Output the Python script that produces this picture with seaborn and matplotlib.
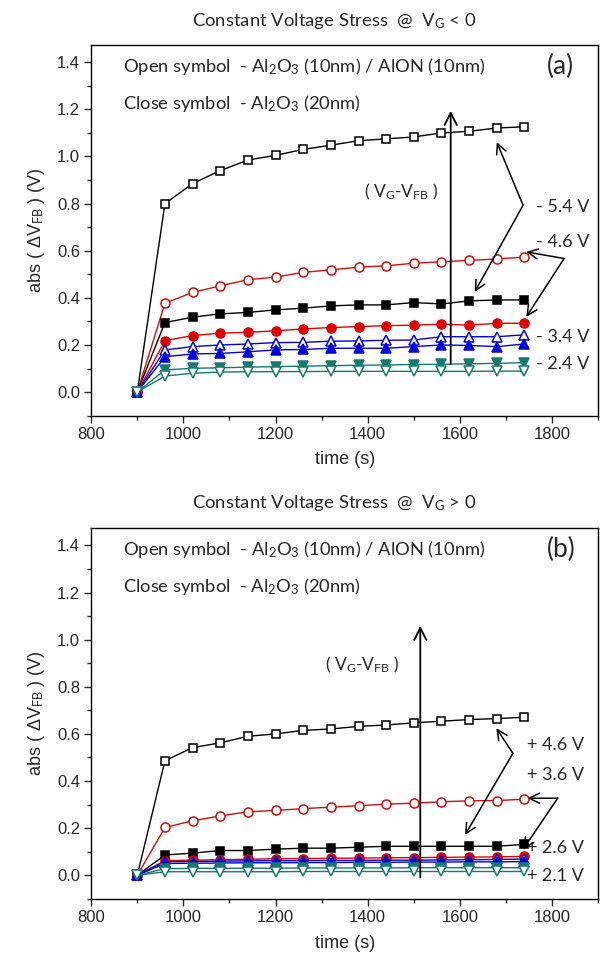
import numpy as np
import pandas as pd
import matplotlib
matplotlib.use("Agg")
import matplotlib.pyplot as plt
from matplotlib.ticker import MultipleLocator, FormatStrFormatter
import seaborn as sns

# ---------------- data ----------------
times = [900, 960, 1020, 1080, 1140, 1200, 1260, 1320, 1380, 1440, 1500, 1560, 1620, 1680, 1740]

# panel (a)  V_G < 0
a_open_sq = [0, 0.800, 0.885, 0.940, 0.985, 1.005, 1.030, 1.048, 1.067, 1.075, 1.083, 1.100, 1.107, 1.121, 1.126]
a_open_circ = [0, 0.377, 0.423, 0.451, 0.477, 0.488, 0.508, 0.519, 0.530, 0.536, 0.547, 0.553, 0.559, 0.565, 0.573]
a_fill_sq = [0, 0.295, 0.318, 0.332, 0.338, 0.349, 0.356, 0.366, 0.370, 0.370, 0.380, 0.374, 0.387, 0.391, 0.391]
a_fill_circ = [0, 0.218, 0.240, 0.250, 0.254, 0.260, 0.268, 0.274, 0.278, 0.282, 0.284, 0.288, 0.284, 0.292, 0.292]
a_open_tri = [0, 0.179, 0.193, 0.200, 0.204, 0.210, 0.211, 0.216, 0.217, 0.220, 0.221, 0.235, 0.235, 0.235, 0.243]
a_fill_tri = [0, 0.150, 0.162, 0.164, 0.171, 0.179, 0.181, 0.186, 0.186, 0.186, 0.193, 0.200, 0.198, 0.193, 0.204]
a_fill_dtri = [0, 0.094, 0.101, 0.103, 0.106, 0.108, 0.110, 0.112, 0.114, 0.115, 0.117, 0.118, 0.120, 0.122, 0.125]
a_open_dtri = [0, 0.068, 0.080, 0.085, 0.086, 0.087, 0.087, 0.088, 0.088, 0.088, 0.088, 0.088, 0.088, 0.089, 0.089]

# panel (b)  V_G > 0
b_open_sq = [0, 0.486, 0.542, 0.562, 0.590, 0.600, 0.615, 0.621, 0.632, 0.638, 0.647, 0.654, 0.661, 0.665, 0.671]
b_open_circ = [0, 0.203, 0.231, 0.252, 0.269, 0.275, 0.283, 0.289, 0.295, 0.302, 0.306, 0.312, 0.316, 0.317, 0.323]
b_fill_sq = [0, 0.086, 0.094, 0.105, 0.105, 0.111, 0.115, 0.115, 0.119, 0.123, 0.123, 0.123, 0.123, 0.123, 0.131]
b_fill_circ = [0, 0.062, 0.064, 0.066, 0.068, 0.070, 0.071, 0.072, 0.073, 0.074, 0.075, 0.076, 0.077, 0.078, 0.080]
b_open_tri = [0, 0.058, 0.058, 0.060, 0.061, 0.062, 0.062, 0.063, 0.063, 0.064, 0.064, 0.065, 0.066, 0.067, 0.069]
b_fill_tri = [0, 0.050, 0.051, 0.052, 0.053, 0.053, 0.054, 0.054, 0.055, 0.055, 0.056, 0.056, 0.057, 0.057, 0.058]
b_fill_dtri = [0, 0.028, 0.029, 0.030, 0.030, 0.030, 0.031, 0.031, 0.031, 0.031, 0.032, 0.032, 0.032, 0.032, 0.032]
b_open_dtri = [0, 0.015, 0.015, 0.015, 0.015, 0.015, 0.016, 0.016, 0.016, 0.016, 0.016, 0.016, 0.016, 0.016, 0.016]

a_labels = ["- 5.4 V", "- 4.6 V", "- 3.4 V", "- 2.4 V"]
b_labels = ["+ 4.6 V", "+ 3.6 V", "+ 2.6 V", "+ 2.1 V"]

# ---------------- style ----------------
sns.set_style("ticks")
plt.rcParams["font.family"] = ["Liberation Sans", "DejaVu Sans"]
plt.rcParams["mathtext.fontset"] = "custom"
plt.rcParams["mathtext.rm"] = "Lato"
plt.rcParams["mathtext.it"] = "Lato"
plt.rcParams["axes.edgecolor"] = "black"
plt.rcParams["axes.linewidth"] = 1.0

BLACK = "#000000"
RED = "#e00000"
RED_O = "#c81010"
BLUE = "#0000d8"
TEAL = "#157a6e"
ANN = "Lato"

fig = plt.figure(figsize=(6.0, 9.61), dpi=100)
ax_a = fig.add_axes([0.152, 0.5675, 0.845, 0.3856])
ax_b = fig.add_axes([0.152, 0.0647, 0.845, 0.3856])


def series(ax, y, marker, color, filled, ms):
    df = pd.DataFrame({"t": times, "v": y})
    sns.lineplot(data=df, x="t", y="v", ax=ax, color=color, lw=1.0,
                 marker=marker, markersize=ms,
                 markerfacecolor=color if filled else "white",
                 markeredgecolor=color, markeredgewidth=1.1,
                 legend=False, zorder=3)


def draw_panel(ax, d):
    (osq, ocirc, fsq, fcirc, otri, ftri, fdtri, odtri) = d
    series(ax, osq, "s", BLACK, False, 5.5)
    series(ax, ocirc, "o", RED_O, False, 6.5)
    series(ax, fsq, "s", BLACK, True, 5.5)
    series(ax, fcirc, "o", RED, True, 6.5)
    series(ax, otri, "^", BLUE, False, 7)
    series(ax, ftri, "^", BLUE, True, 7)
    series(ax, fdtri, "v", TEAL, True, 7)
    series(ax, odtri, "v", TEAL, False, 7)

    ax.set_xlim(800, 1900)
    ax.set_ylim(-0.1, 1.473)
    ax.xaxis.set_major_locator(MultipleLocator(200))
    ax.xaxis.set_minor_locator(MultipleLocator(100))
    ax.yaxis.set_major_locator(MultipleLocator(0.2))
    ax.yaxis.set_minor_locator(MultipleLocator(0.1))
    ax.yaxis.set_major_formatter(FormatStrFormatter("%.1f"))
    ax.set_yticks(np.arange(0, 1.41, 0.2))
    ax.tick_params(which="major", direction="out", length=5, width=1,
                   labelsize=12, pad=3)
    ax.tick_params(which="minor", direction="out", length=3, width=1)
    for s in ax.spines.values():
        s.set_visible(True)
        s.set_linewidth(1.0)
    ax.set_xlabel("time (s)", fontsize=13, labelpad=7)
    ax.set_ylabel(r"abs ( ΔV$_{\mathrm{FB}}$ ) (V)", fontsize=13, labelpad=7)

    ax.text(868, 1.381, r"Open symbol  - Al$_{\mathrm{2}}$O$_{\mathrm{3}}$ (10nm) / AlON (10nm)",
            fontsize=13.2, family=ANN, va="center", ha="left")
    ax.text(868, 1.225, r"Close symbol  - Al$_{\mathrm{2}}$O$_{\mathrm{3}}$ (20nm)",
            fontsize=13.2, family=ANN, va="center", ha="left")


def arrow(ax, start, end, lw=1.1, ms=18):
    ax.annotate("", xy=end, xytext=start,
                arrowprops=dict(arrowstyle="->", lw=lw, color="black",
                                shrinkA=0, shrinkB=0, mutation_scale=ms),
                zorder=5)


# ---------------- panel (a) ----------------
draw_panel(ax_a, (a_open_sq, a_open_circ, a_fill_sq, a_fill_circ,
                  a_open_tri, a_fill_tri, a_fill_dtri, a_open_dtri))
ax_a.text(1819, 1.381, "(a)", fontsize=19, family=ANN, ha="center", va="center")
ax_a.text(1472, 0.85, r"( V$_{\mathrm{G}}$-V$_{\mathrm{FB}}$ )", fontsize=12.5,
          family=ANN, ha="center", va="center")
arrow(ax_a, (1580, 0.12), (1580, 1.194), lw=1.3, ms=22)
arrow(ax_a, (1737, 0.793), (1680, 1.061))
arrow(ax_a, (1737, 0.793), (1632, 0.425))
arrow(ax_a, (1826, 0.567), (1744, 0.595))
arrow(ax_a, (1826, 0.567), (1744, 0.319))
for lab, yy in zip(a_labels, [0.785, 0.637, 0.234, 0.121]):
    ax_a.text(1764, yy, lab, fontsize=13, family=ANN, ha="left", va="center")

# ---------------- panel (b) ----------------
draw_panel(ax_b, (b_open_sq, b_open_circ, b_fill_sq, b_fill_circ,
                  b_open_tri, b_fill_tri, b_fill_dtri, b_open_dtri))
ax_b.text(1819, 1.381, "(b)", fontsize=19, family=ANN, ha="center", va="center")
ax_b.text(1387, 0.894, r"( V$_{\mathrm{G}}$-V$_{\mathrm{FB}}$ )", fontsize=12.5,
          family=ANN, ha="center", va="center")
arrow(ax_b, (1514, -0.01), (1514, 1.059), lw=1.3, ms=22)
arrow(ax_b, (1715, 0.518), (1679, 0.624))
arrow(ax_b, (1715, 0.518), (1611, 0.171))
arrow(ax_b, (1812, 0.327), (1747, 0.327))
arrow(ax_b, (1812, 0.327), (1737, 0.110))
for lab, yy in zip(b_labels, [0.554, 0.426, 0.115, -0.003]):
    ax_b.text(1745, yy, lab, fontsize=13, family=ANN, ha="left", va="center")

# ---------------- titles ----------------
fig.text(334 / 600, 1 - 21 / 961, r"Constant Voltage Stress  @  V$_{\mathrm{G}}$ < 0",
         fontsize=13.3, family=ANN, ha="center", va="center")
fig.text(334 / 600, 1 - 503 / 961, r"Constant Voltage Stress  @  V$_{\mathrm{G}}$ > 0",
         fontsize=13.3, family=ANN, ha="center", va="center")

fig.savefig("out.png", dpi=100)
